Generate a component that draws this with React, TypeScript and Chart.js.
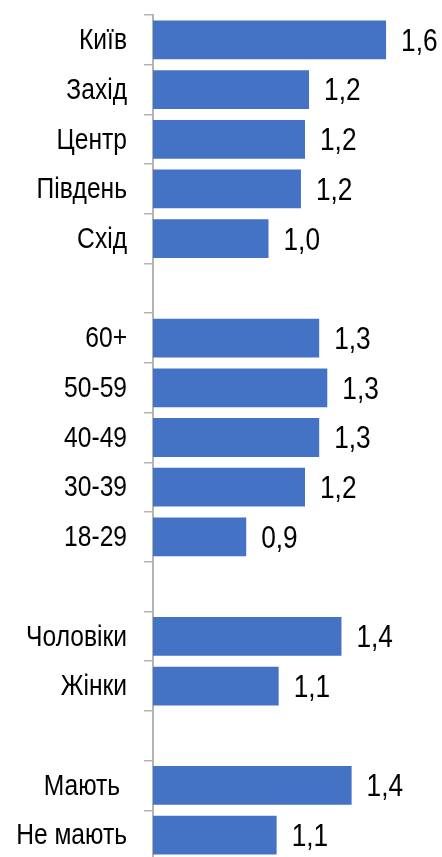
import React, { useEffect, useRef } from "react";
import { Chart, registerables } from "chart.js";

Chart.register(...registerables);

const categories = [
  "Київ", "Захід", "Центр", "Південь", "Схід", "",
  "60+", "50-59", "40-49", "30-39", "18-29", "",
  "Чоловіки", "Жінки", "",
  "Мають ", "Не мають",
];

const values: (number | null)[] = [
  1.60, 1.22, 1.20, 1.18, 1.02, null,
  1.27, 1.31, 1.27, 1.20, 0.91, null,
  1.38, 1.07, null,
  1.43, 1.06,
];

const X_MIN = 0.45;
const X_MAX = 1.876;

const FONT_FAMILY = "'Liberation Sans', Arial, sans-serif";
const NARROW = 0.82;

function drawNarrow(ctx: any, text: string, x: number, y: number, align: "left" | "right") {
  ctx.save();
  ctx.translate(x, y);
  ctx.scale(NARROW, 1);
  ctx.textAlign = align;
  ctx.fillText(text, 0, 0);
  ctx.restore();
}

const textPlugin = {
  id: "textPlugin",
  afterDraw(chart: any) {
    const ctx = chart.ctx;
    const meta = chart.getDatasetMeta(0);
    const yScale = chart.scales.y;
    ctx.save();
    ctx.fillStyle = "#000000";
    ctx.textBaseline = "middle";
    // category labels
    ctx.font = `30px ${FONT_FAMILY}`;
    categories.forEach((c, i) => {
      if (!c) return;
      const y = yScale.getPixelForValue(i);
      drawNarrow(ctx, c, chart.chartArea.left - 26, y + 1, "right");
    });
    // value labels
    ctx.font = `32px ${FONT_FAMILY}`;
    meta.data.forEach((bar: any, i: number) => {
      const v = values[i];
      if (v === null || v === undefined) return;
      const text = v.toFixed(1).replace(".", ",");
      const w = ctx.measureText(text).width * NARROW;
      let x = bar.x + 15;
      if (x + w > chart.width - 4) x = chart.width - 4 - w;
      drawNarrow(ctx, text, x, bar.y + 2, "left");
    });
    ctx.restore();
  },
};

export default function App() {
  const ref = useRef<HTMLCanvasElement | null>(null);
  useEffect(() => {
    if (!ref.current) return;
    const chart = new Chart(ref.current, {
      type: "bar",
      data: {
        labels: categories,
        datasets: [
          {
            data: values as any,
            backgroundColor: "#4472C4",
            borderWidth: 0,
            barPercentage: 0.78,
            categoryPercentage: 1,
          },
        ],
      },
      options: {
        indexAxis: "y",
        responsive: false,
        animation: false,
        layout: { padding: { top: 15, bottom: 0, left: 0, right: 0 } },
        plugins: {
          legend: { display: false },
          tooltip: { enabled: false },
        },
        scales: {
          x: {
            display: false,
            min: X_MIN,
            max: X_MAX,
          },
          y: {
            offset: true,
            grid: {
              display: true,
              offset: true,
              drawOnChartArea: false,
              drawTicks: true,
              tickLength: 9,
              color: "#b4b4b4",
              lineWidth: 1.5,
            },
            border: { display: true, color: "#b4b4b4", width: 2 },
            ticks: {
              display: false,
              autoSkip: false,
            },
            afterFit(scale: any) {
              scale.width = 153;
              scale.paddingTop = 0;
              scale.paddingBottom = 0;
            },
          },
        },
      },
      plugins: [textPlugin],
    });
    return () => chart.destroy();
  }, []);
  return (
    <div
      style={{
        position: "fixed",
        left: 0,
        top: 0,
        width: 442,
        height: 857,
        overflow: "hidden",
        background: "#ffffff",
      }}
    >
      <canvas ref={ref} width={442} height={860} style={{ display: "block" }} />
    </div>
  );
}
